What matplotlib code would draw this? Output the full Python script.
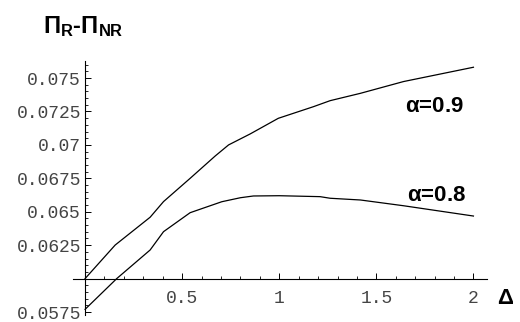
import matplotlib
matplotlib.use("Agg")
import matplotlib.pyplot as plt
from matplotlib.ticker import FixedLocator, MultipleLocator

# Profit difference curves
delta_09 = [0.0, 0.155, 0.335, 0.404, 0.541, 0.67, 0.739, 0.85, 0.995, 1.176, 1.262, 1.418, 1.64, 2.0]
diff_09 = [0.0600, 0.06251, 0.06459, 0.06576, 0.06750, 0.06917, 0.07000, 0.07082, 0.07199,
           0.07286, 0.07331, 0.07386, 0.07474, 0.07581]

delta_08 = [0.0, 0.163, 0.335, 0.404, 0.541, 0.704, 0.8, 0.867, 1.0, 1.21, 1.262, 1.418, 1.64, 2.0]
diff_08 = [0.0577, 0.0600, 0.06214, 0.06351, 0.06493, 0.06575, 0.06605, 0.06618, 0.06620,
           0.06613, 0.06601, 0.06588, 0.06545, 0.06468]

x_ticks = [0.5, 1.0, 1.5, 2.0]
x_labels = ["0.5", "1", "1.5", "2"]
y_ticks = [0.0575, 0.0625, 0.065, 0.0675, 0.07, 0.0725, 0.075]
y_labels = ["0.0575", "0.0625", "0.065", "0.0675", "0.07", "0.0725", "0.075"]

plt.rcParams["mathtext.fontset"] = "custom"
plt.rcParams["mathtext.rm"] = "Liberation Sans"
plt.rcParams["mathtext.bf"] = "Liberation Sans:bold"

fig = plt.figure(figsize=(5.2, 3.22), dpi=100)
ax = fig.add_axes([0.1412, 0.0227, 0.7954, 0.7888])

ax.plot(delta_09, diff_09, color="black", lw=0.9)
ax.plot(delta_08, diff_08, color="black", lw=0.9)

ax.set_xlim(-0.06, 2.07)
ax.set_ylim(0.0573, 0.0763)

for s in ["top", "right"]:
    ax.spines[s].set_visible(False)
ax.spines["left"].set_position(("data", 0.0))
ax.spines["bottom"].set_position(("data", 0.06))
ax.spines["left"].set_bounds(0.0573, 0.0763)
for s in ["left", "bottom"]:
    ax.spines[s].set_linewidth(0.8)

ax.xaxis.set_major_locator(FixedLocator(x_ticks))
ax.set_xticklabels(x_labels)
ax.xaxis.set_minor_locator(MultipleLocator(0.1))
ax.yaxis.set_major_locator(FixedLocator(y_ticks))
ax.set_yticklabels(y_labels)
ax.yaxis.set_minor_locator(MultipleLocator(0.0005))

mono = "Liberation Mono"
ax.tick_params(axis="both", which="major", direction="in", length=4, width=0.7,
               labelsize=13, pad=8)
ax.tick_params(axis="both", which="minor", direction="in", length=2.2, width=0.6)
ax.tick_params(axis="y", which="major", pad=3)
for lbl in ax.get_xticklabels() + ax.get_yticklabels():
    lbl.set_family(mono)
    lbl.set_color("#444444")

ax.text(1.80, 0.0729, r"$\mathbf{\alpha}$=0.9", fontsize=16, fontweight="bold",
        family="Liberation Sans", ha="center", va="center")
ax.text(1.81, 0.0662, r"$\mathbf{\alpha}$=0.8", fontsize=16, fontweight="bold",
        family="Liberation Sans", ha="center", va="center")

fig.text(83 / 520, 1 - 27 / 322, r"$\mathbf{\Pi_R}$-$\mathbf{\Pi_{NR}}$", fontsize=17,
         fontweight="bold", family="Liberation Sans", ha="center", va="center")
fig.text(505 / 520, 1 - 298 / 322, "Δ", fontsize=16, fontweight="bold",
         family="Liberation Sans", ha="center", va="center")

fig.savefig("out.png", dpi=100)
